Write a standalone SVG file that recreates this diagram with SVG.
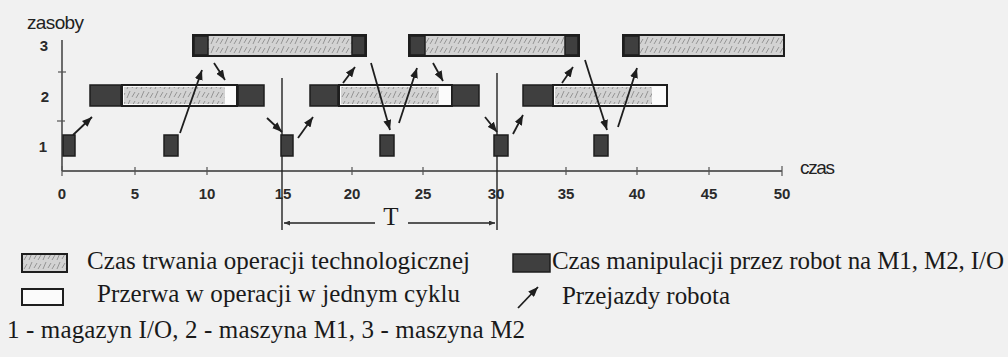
<svg xmlns="http://www.w3.org/2000/svg" width="1008" height="357" viewBox="0 0 1008 357">
<style>
.ax{stroke:#333;stroke-width:1.4;fill:none}
.tk{stroke:#555;stroke-width:1.2}
.num{font-family:"Liberation Sans",Arial,sans-serif;font-size:15px;font-weight:bold;fill:#2a2a2a;text-anchor:middle}
.lbl{font-family:"Liberation Sans",Arial,sans-serif;font-size:19px;fill:#222}
.ser{font-family:"Liberation Serif","Times New Roman",serif;font-size:25px;fill:#1a1a1a}
.dark{fill:#3f3f3f;stroke:#1e1e1e;stroke-width:1.5}
.op{fill:url(#hatch);stroke:#1e1e1e;stroke-width:2}
.gap{fill:#fbfbfb;stroke:#1e1e1e;stroke-width:2}
.hz{fill:url(#hatch);stroke:none}
.arr{stroke:#1e1e1e;stroke-width:1.8;fill:none;marker-end:url(#ah)}
.vl{stroke:#222;stroke-width:1.4}
</style>
<defs>
<pattern id="hatch" patternUnits="userSpaceOnUse" width="14" height="9">
<rect width="14" height="9" fill="#d3d3d3"/>
<path d="M1,8 L4,1 M6,7 L9,2 M10,8 L13,3" stroke="#8c8c8c" stroke-width="0.9"/>
</pattern>
<marker id="ah" markerUnits="userSpaceOnUse" markerWidth="10" markerHeight="8" refX="10" refY="4" orient="auto">
<path d="M0,0 L10,4 L0,8 z" fill="#1e1e1e"/>
</marker>
<marker id="sh" markerUnits="userSpaceOnUse" markerWidth="6" markerHeight="5" refX="6" refY="2.5" orient="auto">
<path d="M0,0 L6,2.5 L0,5 z" fill="#333"/>
</marker>
</defs>
<rect width="1008" height="357" fill="#f1f1f1"/>

<g id="axes">
<line class="ax" x1="62" y1="40" x2="62" y2="171"/>
<line class="ax" x1="62" y1="171" x2="782" y2="171"/>
<line class="tk" x1="58" y1="72" x2="66" y2="72"/>
<line class="tk" x1="57" y1="121" x2="65" y2="121"/>
<g class="tk">
<line x1="62" y1="166" x2="62" y2="176"/>
<line x1="135" y1="167" x2="135" y2="175"/>
<line x1="207" y1="167" x2="207" y2="175"/>
<line x1="352" y1="167" x2="352" y2="175"/>
<line x1="423" y1="167" x2="423" y2="175"/>
<line x1="566" y1="167" x2="566" y2="175"/>
<line x1="637" y1="167" x2="637" y2="175"/>
<line x1="709" y1="167" x2="709" y2="175"/>
<line x1="782" y1="166" x2="782" y2="176"/>
</g>
<text class="lbl" x="27" y="29" textLength="57">zasoby</text>
<text class="lbl" x="800" y="174" textLength="35">czas</text>
<text class="num" x="44" y="51">3</text>
<text class="num" x="45" y="102">2</text>
<text class="num" x="43" y="152">1</text>
<text class="num" x="62" y="199">0</text>
<text class="num" x="135" y="199">5</text>
<text class="num" x="207" y="199">10</text>
<text class="num" x="283" y="199">15</text>
<text class="num" x="352" y="199">20</text>
<text class="num" x="423" y="199">25</text>
<text class="num" x="496" y="199">30</text>
<text class="num" x="566" y="199">35</text>
<text class="num" x="637" y="199">40</text>
<text class="num" x="709" y="199">45</text>
<text class="num" x="782" y="199">50</text>
</g>

<g id="cycle">
<line class="vl" x1="282" y1="78" x2="282" y2="230"/>
<line class="vl" x1="497" y1="73" x2="497" y2="230"/>
<line stroke="#222" stroke-width="1.4" x1="375" y1="223" x2="284" y2="223" marker-end="url(#sh)"/>
<line stroke="#222" stroke-width="1.4" x1="408" y1="223" x2="495" y2="223" marker-end="url(#sh)"/>
<text class="ser" x="391" y="225" text-anchor="middle" font-size="21">T</text>
</g>

<g id="row3">
<g id="m2-op1"><rect class="op" x="193" y="35" width="173" height="21"/><rect class="dark" x="194" y="36" width="14" height="19"/><rect class="dark" x="352" y="36" width="13" height="19"/></g>
<g id="m2-op2"><rect class="op" x="409" y="35" width="170" height="21"/><rect class="dark" x="410" y="36" width="15" height="19"/><rect class="dark" x="565" y="36" width="13" height="19"/></g>
<g id="m2-op3"><rect class="op" x="623" y="35" width="161" height="21"/><rect class="dark" x="624" y="36" width="15" height="19"/></g>
</g>

<g id="row2">
<g id="m1-op1"><rect class="dark" x="90" y="85" width="31" height="21"/><rect class="gap" x="122" y="85" width="115" height="21"/><rect class="hz" x="124" y="87" width="101" height="17"/><rect class="dark" x="238" y="85" width="26" height="21"/></g>
<g id="m1-op2"><rect class="dark" x="310" y="85" width="28" height="21"/><rect class="gap" x="339" y="85" width="113" height="21"/><rect class="hz" x="341" y="87" width="98" height="17"/><rect class="dark" x="452" y="85" width="27" height="21"/></g>
<g id="m1-op3"><rect class="dark" x="523" y="85" width="30" height="21"/><rect class="gap" x="553" y="85" width="114" height="21"/><rect class="hz" x="555" y="87" width="97" height="17"/></g>
</g>

<g id="row1">
<rect id="io1" class="dark" x="63" y="135" width="12" height="21"/>
<rect id="io2" class="dark" x="164" y="135" width="14" height="21"/>
<rect id="io3" class="dark" x="281" y="135" width="12" height="21"/>
<rect id="io4" class="dark" x="380" y="135" width="14" height="21"/>
<rect id="io5" class="dark" x="494" y="135" width="14" height="21"/>
<rect id="io6" class="dark" x="594" y="135" width="14" height="21"/>
</g>

<g id="connectors">
<line class="arr" x1="73" y1="135" x2="92" y2="117"/>
<line class="arr" x1="180" y1="133" x2="202" y2="70"/>
<line class="arr" x1="214" y1="63" x2="225" y2="80"/>
<line class="arr" x1="267" y1="118" x2="282" y2="132"/>
<line class="arr" x1="298" y1="138" x2="313" y2="117"/>
<line class="arr" x1="343" y1="83" x2="355" y2="67"/>
<line class="arr" x1="371" y1="63" x2="390" y2="130"/>
<line class="arr" x1="399" y1="123" x2="417" y2="68"/>
<line class="arr" x1="433" y1="63" x2="443" y2="81"/>
<line class="arr" x1="485" y1="117" x2="497" y2="132"/>
<line class="arr" x1="513" y1="134" x2="523" y2="115"/>
<line class="arr" x1="562" y1="83" x2="573" y2="67"/>
<line class="arr" x1="585" y1="60" x2="607" y2="130"/>
<line class="arr" x1="618" y1="127" x2="637" y2="68"/>
</g>

<g id="legend">
<rect class="op" x="22" y="254" width="45" height="18"/>
<text class="ser" x="87" y="269" textLength="383">Czas trwania operacji technologicznej</text>
<rect class="gap" x="22" y="289" width="41" height="16"/>
<text class="ser" x="97" y="302" textLength="363">Przerwa w operacji w jednym cyklu</text>
<rect class="dark" x="513" y="254" width="37" height="18"/>
<text class="ser" x="552" y="269" textLength="452">Czas manipulacji przez robot na M1, M2, I/O</text>
<line class="arr" x1="518" y1="308" x2="538" y2="287"/>
<text class="ser" x="562" y="304" textLength="168">Przejazdy robota</text>
<text class="ser" x="7" y="338" textLength="518">1 - magazyn I/O,  2 - maszyna M1, 3 - maszyna M2</text>
</g>
</svg>
